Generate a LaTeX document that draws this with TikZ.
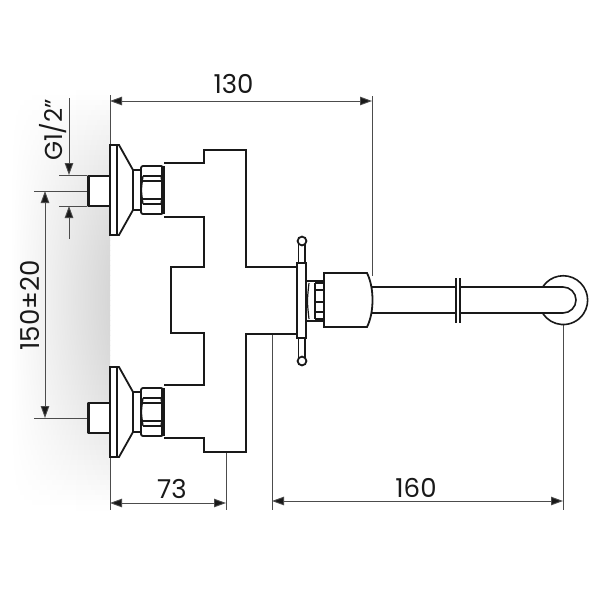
\documentclass[tikz,border=0pt]{standalone}
\usepackage{fontspec}
\setmainfont{Poppins}
\usetikzlibrary{arrows.meta}
\definecolor{ink}{gray}{0.1}
\definecolor{dimc}{gray}{0.3}
\tikzset{
 obj/.style={draw=ink,line width=1.8pt,line join=miter},
 objw/.style={obj,fill=white},
 stubline/.style={draw=ink,line width=2.4pt,line join=round},
 thin line/.style={draw=dimc,line width=0.9pt},
 dimen/.style={thin line,{Triangle[length=12pt,width=8.5pt,fill=ink]}-{Triangle[length=12pt,width=8.5pt,fill=ink]}},
 leader/.style={thin line,-{Triangle[length=12pt,width=8.5pt,fill=ink]}},
 lbl/.style={text=ink,font=\fontsize{26}{26}\selectfont,inner sep=0pt},
 valve/.pic={
  \path[objw] (110,145) rectangle (117,235);
  \draw[obj] (117,145) -- (119,145) -- (133,170) -- (133,210) -- (119,235) -- (117,235);
  \draw[obj] (133,170) -- (141,170) (133,210) -- (141,210) (141,170) -- (141,210);
  \draw[obj,rounded corners=2pt,fill=white] (141,166) rectangle (163,214);
  \draw[obj,line width=2pt] (143,176) -- (161,176) (143,181) -- (161,181) (143,199) -- (161,199) (143,204) -- (161,204);
  \draw[obj,line width=1.3pt] (143,176) .. controls (141,190) .. (143,204) (161,176) .. controls (163,190) .. (161,204);
  \fill[ink] (160.5,166) rectangle (164.5,214);
 }
}
\begin{document}
\begin{tikzpicture}[x=1pt,y=-1pt]
\useasboundingbox (0,0) rectangle (600,600);
\fill[white] (0,0) rectangle (600,600);
% wall shading
\foreach \yy in {90,95,...,505}{
  \pgfmathsetmacro{\vv}{16*sin(((\yy+2.5-90)/420)*180)}
  \shade[left color=white,right color={black!\vv!white}] (10,\yy) rectangle (110,\yy+5.4);
}
% named points
\coordinate (a130) at (110,101); \coordinate (b130) at (372,101);
\coordinate (a73) at (110,503); \coordinate (b73) at (226,503);
\coordinate (a160) at (272,501); \coordinate (b160) at (563,501);
\coordinate (a150) at (45,191); \coordinate (b150) at (45,418);
% extension lines
\draw[thin line] (110,95) -- (110,145);
\draw[thin line] (110,457) -- (110,510);
\draw[thin line] (372,96) -- (372,276);
\draw[thin line] (226,452) -- (226,510);
\draw[thin line] (272,334) -- (272,510);
\draw[thin line] (563,324) -- (563,510);
% stubs
\fill[white] (88,175) rectangle (110,206);
\fill[white] (88,402) rectangle (110,433);
% G1/2 leaders
\draw[thin line] (59,175) -- (87,175) (59,206) -- (87,206);
\draw[thin line] (34,191) -- (87,191);
\draw[thin line] (34,418) -- (87,418);
\draw[stubline] (110,176) -- (88.5,176) -- (88.5,206) -- (110,206);
\draw[stubline] (110,403) -- (88.5,403) -- (88.5,433) -- (110,433);
\coordinate (g1) at (69,98); \coordinate (g2) at (69,175);
\coordinate (g3) at (69,239); \coordinate (g4) at (69,206);
\draw[leader] (g1) -- (g2);
\draw[leader] (g3) -- (g4);
% valves
\pic at (0,0) {valve};
\pic at (0,222) {valve};
% body
\draw[obj] (164,163) -- (204,163) -- (204,150) -- (246,150) -- (246,267) -- (297,267);
\draw[obj] (164,217) -- (204,217) -- (204,267) -- (171,267) -- (171,333) -- (204,333) -- (204,385) -- (164,385);
\draw[obj] (164,438) -- (204,438) -- (204,452) -- (246,452) -- (246,334) -- (297,334);
% handle
\draw[obj] (298.5,263) -- (298.5,245) (305,263) -- (305,245);
\draw[obj] (298.5,338) -- (298.5,357) (305,338) -- (305,357);
\draw[objw] (302,241) circle (4.4);
\draw[objw] (302,361) circle (4.4);
\path[objw] (297,263) rectangle (306,338);
% connector
\draw[obj] (306,281) -- (324,281) (306,321) -- (324,321);
\draw[obj,line width=1.2pt] (309,283) .. controls (307,301) .. (309,319);
\draw[obj,line width=2.4pt] (315,283) -- (324,283) (315,290) -- (324,290) (315,302) -- (324,302) (315,312) -- (324,312) (315,319) -- (324,319);
\draw[obj] (315,283) -- (315,319);
% cylinder
\path[objw] (324,273) -- (367,273) .. controls (371,281) and (372.5,291) .. (372.5,300) .. controls (372.5,309) and (371,319) .. (367,327) -- (324,327) -- cycle;
% spout
\draw[obj,line width=1.6pt] (372,287) -- (456,287) (460,287) -- (563,287);
\draw[obj,line width=1.6pt] (372,313) -- (456,313) (460,313) -- (563,313);
\draw[obj,line width=1.3pt] (456,278) -- (456,323) (460,278) -- (460,323);
\draw[obj,line width=1.6pt] (563,287) arc[start angle=-90,end angle=90,radius=13];
\draw[obj,line width=1.6pt] (543,286.5) arc[start angle=-146,end angle=146,radius=24.4];
% dimensions
\draw[dimen] (a130) -- (b130);
\draw[dimen] (a73) -- (b73);
\draw[dimen] (a160) -- (b160);
\draw[dimen] (a150) -- (b150);
% labels
\node[lbl] (t130) at (233.5,84) {130};
\node[lbl] (t73) at (172,489) {73};
\node[lbl] (t160) at (416,488) {160};
\node[lbl,rotate=90] (t150) at (30,305.5) {150±20};
\node[lbl,rotate=90,font=\fontsize{24.5}{24.5}\selectfont] (tg) at (53.5,130) {G1/2"};
\end{tikzpicture}
\end{document}
